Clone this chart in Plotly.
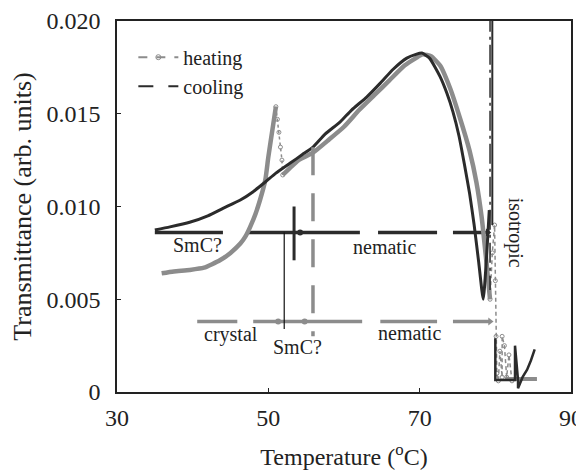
import plotly.graph_objects as go

# ---- data ----
cool_x = [35.0, 37.0, 39.6, 42.0, 44.0, 46.3, 48.0, 49.6, 51.0, 52.9, 54.5, 55.9, 57.5, 59.5, 61.0, 63.0,
          64.8, 66.5, 68.3, 69.5, 70.3, 71.3, 72.7, 73.6, 74.4, 75.2, 75.9, 76.6, 77.2, 77.8, 78.4, 78.8, 79.2]
cool_y = [0.00873, 0.0089, 0.00915, 0.0095, 0.0099, 0.01035, 0.0108, 0.01132, 0.0118, 0.01234, 0.0128,
          0.0132, 0.0139, 0.01456, 0.0152, 0.0159, 0.01665, 0.0174, 0.0180, 0.0182, 0.01827, 0.0180,
          0.0170, 0.0161, 0.0151, 0.0138, 0.0123, 0.0107, 0.0090, 0.0070, 0.0050, 0.0070, 0.0098]

heat_low_x = [35.9, 37.5, 39.6, 41.5, 43.6, 45.0, 46.3, 47.0, 47.6, 48.3, 48.9, 49.6, 50.0, 50.6, 51.0]
heat_low_y = [0.0064, 0.0065, 0.00658, 0.0067, 0.0071, 0.0075, 0.0080, 0.0084, 0.0089, 0.0096, 0.01035,
              0.01143, 0.01267, 0.0143, 0.01538]

heat_drop_x = [51.0, 51.2, 51.4, 51.6, 51.8, 51.9]
heat_drop_y = [0.01538, 0.0147, 0.0140, 0.0132, 0.0125, 0.0117]

heat_main_x = [51.9, 52.9, 54.0, 55.9, 58.0, 60.0, 62.0, 64.0, 66.0, 68.0, 69.5, 70.4, 71.5, 72.7, 74.0,
               75.3, 76.6, 77.5, 78.2, 78.8, 79.3]
heat_main_y = [0.0117, 0.0121, 0.0125, 0.0129, 0.0136, 0.0143, 0.0152, 0.0160, 0.0168, 0.0176, 0.0180,
               0.0182, 0.0181, 0.0176, 0.0164, 0.0148, 0.0130, 0.0113, 0.0094, 0.0071, 0.0050]

heat_iso_x = [79.3, 79.6, 79.9, 80.0, 80.1, 80.2, 80.4, 80.6, 80.9, 80.9, 81.2, 81.5, 81.8, 82.2]
heat_iso_y = [0.0050, 0.0075, 0.0090, 0.0060, 0.0030, 0.0010, 0.0006, 0.0022, 0.0008, 0.0030, 0.0025,
              0.0008, 0.0020, 0.0006]

cool_iso_x = [80.0, 80.0, 82.6, 82.6, 83.0, 83.0, 83.6, 84.2, 84.7, 85.2]
cool_iso_y = [0.0029, 0.00065, 0.00065, 0.0025, 0.00065, 0.0002, 0.0008, 0.0012, 0.0017, 0.0023]

iso_base_x = [81.3, 85.5]
iso_base_y = [0.0007, 0.0007]

# phase bars (cooling / heating)
cool_bar_x = [35.0, 44.0, None, 47.2, 62.1, None, 64.5, 72.3, None, 74.4, 79.0]
cool_bar_y = [0.0086, 0.0086, None, 0.0086, 0.0086, None, 0.0086, 0.0086, None, 0.0086, 0.0086]
heat_bar_x = [40.6, 45.9, None, 48.0, 62.4, None, 64.8, 72.3, None, 74.4, 79.3]
heat_bar_y = [0.0038, 0.0038, None, 0.0038, 0.0038, None, 0.0038, 0.0038, None, 0.0038, 0.0038]
heat_bar_dots_x = [51.3, 54.8]
heat_bar_dots_y = [0.0038, 0.0038]
cool_bar_dots_x = [54.2]
cool_bar_dots_y = [0.0086]
bar_end_x = [79.0, 79.3]
bar_end_y = [0.0086, 0.0038]

# transition markers
smc_cool_x = [53.4, 53.4]
smc_cool_y = [0.0100, 0.0071]
thin_x = [52.1, 52.1]
thin_y = [0.0086, 0.0034]
nem_heat_x = [55.9, 55.9]
nem_heat_y = [0.0132, 0.0030]
iso_solid_x = [79.6, 79.6]
iso_solid_y = [0.0205, 0.0090]
iso_dashdot_x = [79.3, 79.3]
iso_dashdot_y = [0.0205, 0.0055]

labels = ["SmC?", "nematic", "crystal", "SmC?", "nematic"]
label_x = [40.7, 65.4, 45.0, 53.9, 68.6]
label_y = [0.0079, 0.0078, 0.0031, 0.0024, 0.0032]

x_ticks = [30, 50, 70, 90]
y_ticks = [0, 0.005, 0.010, 0.015, 0.020]
y_ticktext = ["0", "0.005", "0.010", "0.015", "0.020"]

DARK = "#2b2b2b"
GRAY = "#8c8c8c"
FONT = "Liberation Serif"

fig = go.Figure()

def line(x, y, color, width, dash="solid", name=None, legend=False, mode="lines", marker=None,
         shape="linear"):
    fig.add_trace(go.Scatter(x=x, y=y, mode=mode, name=name, showlegend=legend,
                             line=dict(color=color, width=width, dash=dash, shape=shape,
                                       smoothing=0.5 if shape == "spline" else None),
                             marker=marker or {}, hoverinfo="skip"))

# legend-only entries
line([None], [None], GRAY, 2, dash="dash", name="heating", legend=True, mode="lines+markers",
     marker=dict(symbol="circle-open", size=5, color=GRAY))
line([None], [None], DARK, 2, dash="longdash", name="cooling", legend=True)

# phase bars
line(heat_bar_x, heat_bar_y, GRAY, 3.5)
line(cool_bar_x, cool_bar_y, DARK, 3.5)
line(heat_bar_dots_x, heat_bar_dots_y, GRAY, 1, mode="markers", marker=dict(color=GRAY, size=6))
line(cool_bar_dots_x, cool_bar_dots_y, DARK, 1, mode="markers", marker=dict(color=DARK, size=6))
line(bar_end_x, bar_end_y, GRAY, 1, mode="markers",
     marker=dict(symbol="triangle-right", color=[DARK, GRAY], size=7))

# curves
line(heat_low_x, heat_low_y, GRAY, 4.5, shape="spline")
line(heat_drop_x, heat_drop_y, GRAY, 1.5, dash="dot", mode="lines+markers",
     marker=dict(symbol="circle-open", size=4, color=GRAY))
line(heat_main_x, heat_main_y, GRAY, 4.5, shape="spline")
line(cool_x, cool_y, DARK, 3, shape="spline")
line(heat_iso_x, heat_iso_y, GRAY, 1.5, dash="4px,3px", mode="lines+markers",
     marker=dict(symbol="circle-open", size=4, color=GRAY))
line(iso_base_x, iso_base_y, GRAY, 4)
line(cool_iso_x, cool_iso_y, DARK, 2.5)

# transition lines
line(smc_cool_x, smc_cool_y, DARK, 3)
line(thin_x, thin_y, "#111111", 1.2)
line(nem_heat_x, nem_heat_y, GRAY, 3.5, dash="28px,18px")
line(iso_solid_x, iso_solid_y, DARK, 2)
line(iso_dashdot_x, iso_dashdot_y, DARK, 1.5, dash="20px,5px,3px,5px")

for t, x, y in zip(labels, label_x, label_y):
    fig.add_annotation(x=x, y=y, text=t, showarrow=False,
                       font=dict(family=FONT, size=20, color="#222"))
fig.add_annotation(x=82.7, y=0.0086, text="isotropic", textangle=90, showarrow=False,
                   font=dict(family=FONT, size=20, color="#222"))

axis_common = dict(showline=True, linecolor="#222", linewidth=1.5, mirror=True, automargin=False,
                   ticks="inside", ticklen=4, tickcolor="#222", showgrid=False, zeroline=False,
                   tickfont=dict(family=FONT, size=24, color="#222"))

fig.update_layout(
    width=584, height=475,
    margin=dict(l=109, r=21, t=13, b=91),
    paper_bgcolor="white", plot_bgcolor="white",
    xaxis=dict(range=[30, 90], tickvals=x_ticks, ticktext=[str(v) for v in x_ticks],
               ticklabelstandoff=3,
               title=dict(text="Temperature (<sup>o</sup>C)", standoff=19,
                          font=dict(family=FONT, size=24, color="#222")),
               **axis_common),
    yaxis=dict(range=[0, 0.020], tickvals=y_ticks, ticktext=y_ticktext,
               ticklabelstandoff=10,
               title=dict(text="Transmittance (arb. units)", standoff=24,
                          font=dict(family=FONT, size=26, color="#222")),
               **axis_common),
    legend=dict(x=0.036, y=0.955, xanchor="left", yanchor="top", bgcolor="rgba(0,0,0,0)",
                font=dict(family=FONT, size=20, color="#222"), tracegroupgap=0,
                itemwidth=40),
    showlegend=True,
)

fig.write_html("out.html")
